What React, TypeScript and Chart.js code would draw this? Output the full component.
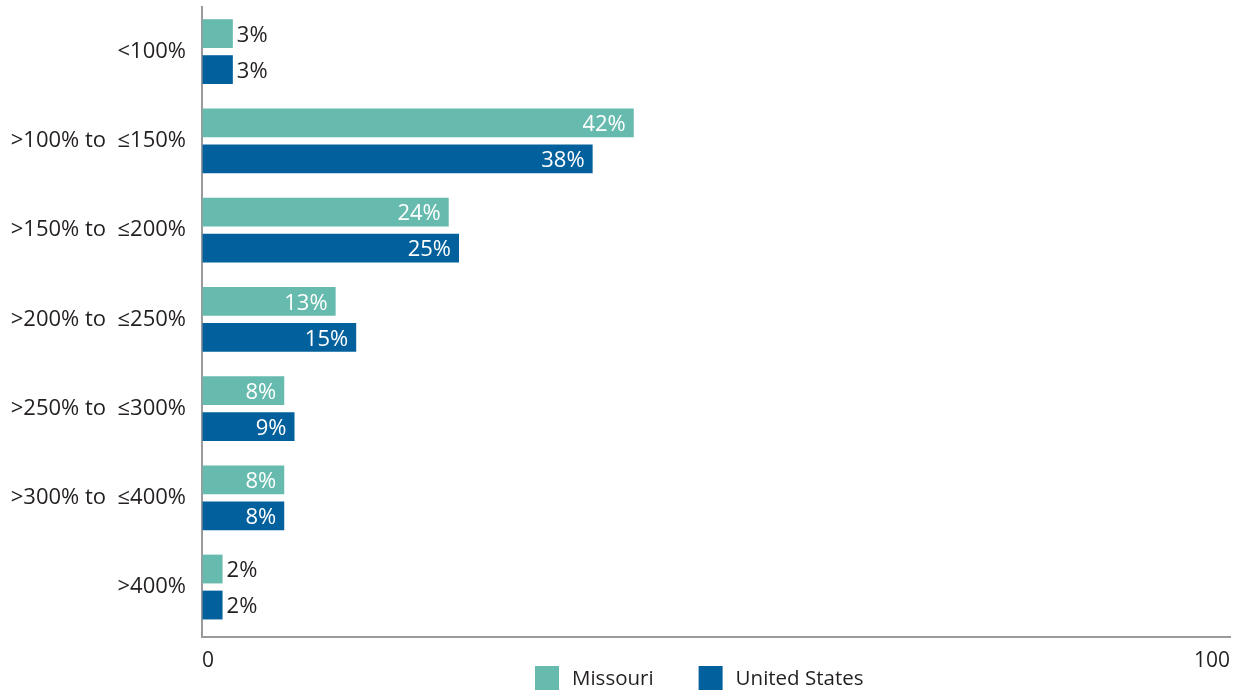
import React, { useEffect, useRef } from "react";
import { Chart, registerables } from "chart.js";

Chart.register(...registerables);

const categories = ["<100%", ">100% to  ≤150%", ">150% to  ≤200%", ">200% to  ≤250%", ">250% to  ≤300%", ">300% to  ≤400%", ">400%"];
const missouri = [3, 42, 24, 13, 8, 8, 2];
const unitedStates = [3, 38, 25, 15, 9, 8, 2];
const seriesNames = ["Missouri", "United States"];
const xTicks = [0, 100];

const TEAL = "#66BBAE";
const BLUE = "#02619D";
const TEXT = "#231F20";
const AXIS = "#9A9A9C";
const FONT = "'Open Sans', 'Noto Sans', sans-serif";

const labelPlugin = {
  id: "barLabels",
  afterDatasetsDraw(chart: any) {
    const ctx = chart.ctx;
    ctx.save();
    ctx.font = `22px ${FONT}`;
    ctx.textBaseline = "middle";
    chart.data.datasets.forEach((ds: any, di: number) => {
      const meta = chart.getDatasetMeta(di);
      meta.data.forEach((bar: any, i: number) => {
        const v = ds.data[i];
        const txt = `${v}%`;
        if (v >= 5) {
          ctx.fillStyle = "#FFFFFF";
          ctx.textAlign = "right";
          ctx.fillText(txt, bar.x - 8, bar.y + 2);
        } else {
          ctx.fillStyle = TEXT;
          ctx.textAlign = "left";
          ctx.fillText(txt, bar.x + 4, bar.y + 2);
        }
      });
    });
    ctx.restore();
  },
};

const legendPlugin = {
  id: "customLegend",
  afterDraw(chart: any) {
    const ctx = chart.ctx;
    ctx.save();
    ctx.font = `20.5px ${FONT}`;
    ctx.textBaseline = "middle";
    ctx.textAlign = "left";
    let x = 535;
    const boxTop = 666;
    const box = 24;
    chart.data.datasets.forEach((ds: any) => {
      ctx.fillStyle = ds.backgroundColor;
      ctx.fillRect(x, boxTop, box, box);
      ctx.fillStyle = TEXT;
      const tx = x + box + 13;
      ctx.fillText(ds.label, tx, boxTop + box / 2 + 1);
      x = tx + ctx.measureText(ds.label).width + 45;
    });
    ctx.restore();
  },
};

export default function App() {
  const ref = useRef<HTMLCanvasElement | null>(null);
  useEffect(() => {
    if (!ref.current) return;
    const chart = new Chart(ref.current, {
      type: "bar",
      data: {
        labels: categories,
        datasets: [
          { label: seriesNames[0], data: missouri, backgroundColor: TEAL, categoryPercentage: 0.807, barPercentage: 0.8 },
          { label: seriesNames[1], data: unitedStates, backgroundColor: BLUE, categoryPercentage: 0.807, barPercentage: 0.8 },
        ],
      },
      options: {
        indexAxis: "y",
        animation: false,
        responsive: true,
        maintainAspectRatio: false,
        layout: { padding: { top: 7, right: 9, left: 0, bottom: 0 } },
        scales: {
          x: {
            min: xTicks[0],
            max: xTicks[xTicks.length - 1],
            afterBuildTicks: (s: any) => {
              s.ticks = xTicks.map((v) => ({ value: v }));
            },
            afterFit: (s: any) => {
              s.height = 54;
            },
            grid: { color: "transparent", drawTicks: false },
            border: { display: true, color: AXIS, width: 2 },
            ticks: { align: "inner", color: TEXT, font: { family: FONT, size: 21 }, padding: 11 },
          },
          y: {
            afterFit: (s: any) => {
              s.width = 202;
              s.paddingTop = 0;
              s.paddingBottom = 0;
            },
            afterBuildTicks: (s: any) => {
              s._valueRange = categories.length + 0.06;
            },
            grid: { color: "transparent", drawTicks: false },
            border: { display: true, color: AXIS, width: 2 },
            ticks: { color: TEXT, font: { family: FONT, size: 22 }, padding: 16 },
          },
        },
        plugins: {
          legend: { display: false },
          tooltip: { enabled: false },
        },
      },
      plugins: [labelPlugin, legendPlugin],
    });
    return () => chart.destroy();
  }, []);
  return (
    <div style={{ position: "absolute", left: 0, top: 0, width: 1241, height: 691 }}>
      <canvas ref={ref} />
    </div>
  );
}
